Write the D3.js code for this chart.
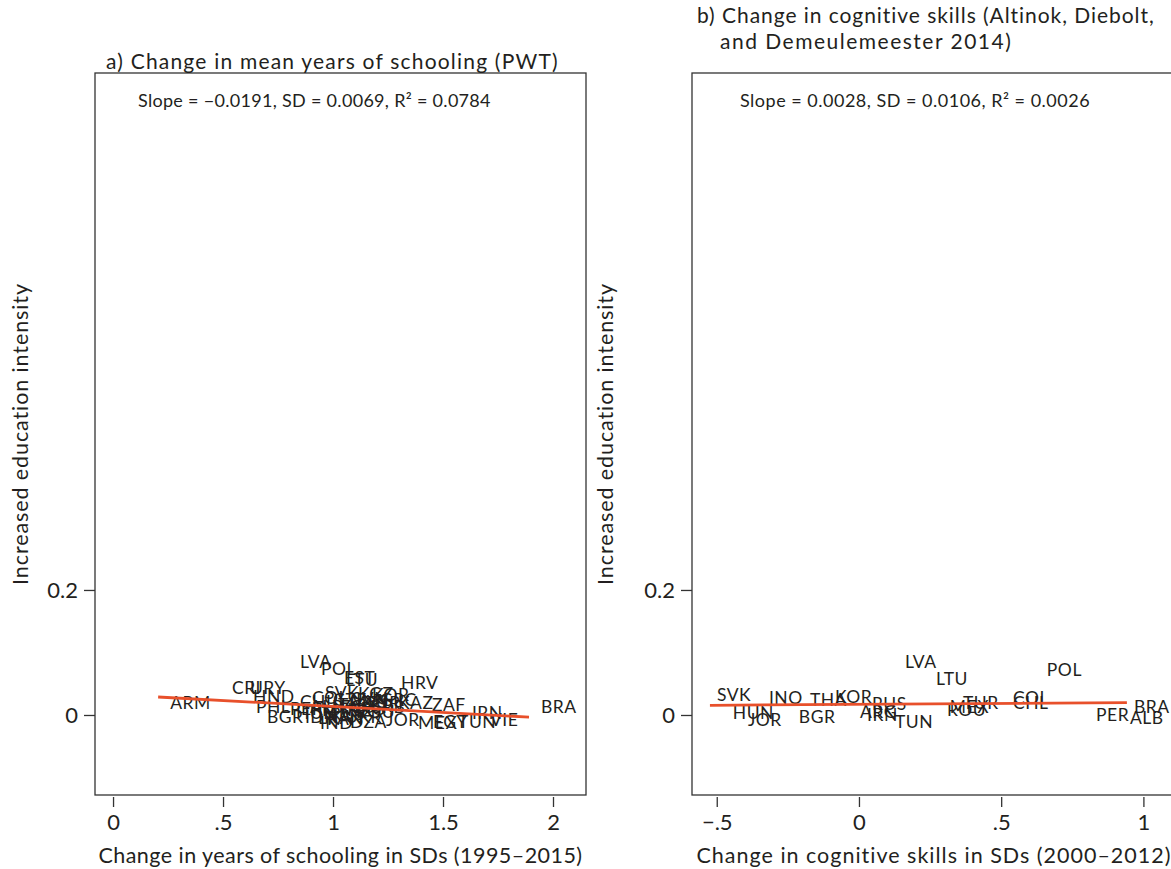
<!DOCTYPE html>
<html><head><meta charset="utf-8">
<script src="https://cdn.jsdelivr.net/npm/d3@7"></script>
<style>body{margin:0;background:#fff}text{font-family:Lato,"Open Sans",sans-serif;fill:#231f20}</style>
</head><body><svg id="c" width="1171" height="869"></svg>
<script>
// Panel a: change in years of schooling (x) vs increased education intensity (y)
const codesA = ["ARM","CRI","URY","HND","PHL","BGR","LVA","POL","EST","LTU","HRV","SVK","KGZ","KOR","KAZ","ZAF","IRN","TUN","VIE","MEX","EGY","JOR","DZA","IND","BRA","CHL","COL","PER","THA","MYS","TUR","SRB","ROU","RUS","UKR","IDN","HUN","CZE","SVN","GRC","LKA","PAN","ECU","ALB","MNG","ARG"];
const xA = [0.205,0.486,0.568,0.582,0.595,0.645,0.795,0.891,0.995,1.005,1.255,0.909,1.059,1.123,1.241,1.395,1.577,1.514,1.659,1.332,1.400,1.186,1.023,0.886,1.891,0.795,0.850,0.750,0.968,1.023,1.091,1.123,1.050,0.932,1.000,0.818,0.777,0.945,1.032,1.159,0.877,0.918,0.977,0.841,0.895,1.014];
const yA = [0.019,0.043,0.043,0.029,0.014,-0.002,0.086,0.074,0.059,0.056,0.051,0.035,0.034,0.032,0.019,0.016,0.003,-0.011,-0.008,-0.013,-0.011,-0.008,-0.011,-0.013,0.014,0.022,0.027,0.010,0.016,0.022,0.019,0.013,0.005,0.002,-0.002,-0.002,0.003,0.024,0.026,0.024,-0.005,-0.006,0.013,0.014,0.008,0.010];
// Panel b: change in cognitive skills (x) vs increased education intensity (y)
const codesB = ["SVK","HUN","JOR","INO","BGR","THA","KOR","ARG","IRN","RUS","TUN","LVA","LTU","ROU","MEX","TUR","COL","CHL","POL","PER","ALB","BRA"];
const xB = [-0.524,-0.468,-0.415,-0.341,-0.236,-0.197,-0.109,-0.021,0.004,0.021,0.102,0.137,0.246,0.285,0.295,0.341,0.517,0.517,0.636,0.809,0.928,0.942];
const yB = [0.032,0.003,-0.008,0.027,-0.002,0.024,0.029,0.005,0.000,0.018,-0.011,0.085,0.058,0.008,0.013,0.019,0.027,0.019,0.072,0.000,-0.005,0.013];
// Fitted lines (intercept, slope)
const fitA = {intercept: 0.0327, slope: -0.0191};
const fitB = {intercept: 0.0170, slope: 0.0028};
const statsA = "Slope = \u22120.0191, SD = 0.0069, R\u00b2 = 0.0784";
const statsB = "Slope = 0.0028, SD = 0.0106, R\u00b2 = 0.0026";
const xTicksA = [0, 0.5, 1, 1.5, 2];
const xTickLabelsA = ["0", ".5", "1", "1.5", "2"];
const xTicksB = [-0.5, 0, 0.5, 1];
const xTickLabelsB = ["\u2212.5", "0", ".5", "1"];
const yTicks = [0, 0.2];
const yTickLabels = ["0", "0.2"];
const titleA = ["a) Change in mean years of schooling (PWT)"];
const titleB = ["b) Change in cognitive skills (Altinok, Diebolt,", "and Demeulemeester 2014)"];
const xTitleA = "Change in years of schooling in SDs (1995\u20132015)";
const xTitleB = "Change in cognitive skills in SDs (2000\u20132012)";
const yTitle = "Increased education intensity";

const svg = d3.select("#c");
const lineColor = "#e8502b";

function panel(cfg) {
  const {left, right, top, bottom, xDom, codes, xs, ys, fit, stats, xTicks, xTickLabels, title, titleX, titleDy,
         xTitle, yTitleX, labelDx, statsX, lsTitle, lsXTitle, lsStats} = cfg;
  const x = d3.scaleLinear().domain(xDom).range([left, right]);
  const y = d3.scaleLinear().domain([-0.128, 1.027]).range([bottom, top]);
  const g = svg.append("g");
  g.append("rect").attr("x", left).attr("y", top).attr("width", right - left).attr("height", bottom - top)
    .attr("fill", "none").attr("stroke", "#333").attr("stroke-width", 1.3);
  const xa = d3.axisBottom(x).tickValues(xTicks).tickSize(10).tickPadding(7)
    .tickFormat((d, i) => xTickLabels[i]);
  const gx = g.append("g").attr("transform", `translate(0,${bottom + 2})`).call(xa);
  gx.select(".domain").remove();
  gx.selectAll(".tick line").attr("stroke", "#333").attr("stroke-width", 1.3);
  gx.selectAll(".tick text").attr("font-size", 22).attr("fill", "#231f20").style("font-family", "Lato");
  const ya = d3.axisLeft(y).tickValues(yTicks).tickSize(11).tickPadding(6)
    .tickFormat((d, i) => yTickLabels[i]);
  const gy = g.append("g").attr("transform", `translate(${left},0)`).call(ya);
  gy.select(".domain").remove();
  gy.selectAll(".tick line").attr("stroke", "#333").attr("stroke-width", 1.3);
  gy.selectAll(".tick text").attr("font-size", 22).attr("fill", "#231f20").style("font-family", "Lato");
  const t = g.append("text").attr("font-size", 21);
  title.forEach((s, i) => t.append("tspan").attr("x", titleX[i]).attr("y", titleDy[i])
    .attr("letter-spacing", lsTitle[i]).text(s));
  g.append("text").attr("x", (left + right) / 2).attr("y", bottom + 68).attr("text-anchor", "middle")
    .attr("font-size", 21.5).attr("letter-spacing", lsXTitle).text(xTitle);
  g.append("text").attr("transform", `translate(${yTitleX},${(top + bottom) / 2}) rotate(-90)`)
    .attr("text-anchor", "middle").attr("font-size", 21.5).attr("letter-spacing", 0.9).text(yTitle);
  g.append("text").attr("x", statsX).attr("y", top + 34).attr("font-size", 18).attr("letter-spacing", lsStats).text(stats);
  const data = codes.map((c, i) => ({c, x: xs[i], y: ys[i]}));
  g.selectAll("text.lab").data(data).enter().append("text").attr("class", "lab")
    .attr("x", d => x(d.x) + labelDx).attr("y", d => y(d.y)).attr("dy", "0.36em")
    .attr("font-size", 17.5).attr("letter-spacing", 0.5).text(d => d.c);
  const ext = d3.extent(xs);
  const lineData = ext.map(v => ({x: v, y: fit.intercept + fit.slope * v}));
  g.append("path").datum(lineData)
    .attr("d", d3.line().x(d => x(d.x)).y(d => y(d.y)))
    .attr("stroke", lineColor).attr("stroke-width", 2.8).attr("fill", "none");
}

panel({left: 95, right: 586, top: 73, bottom: 795, xDom: [-0.082, 2.15],
  codes: codesA, xs: xA, ys: yA, fit: fitA, stats: statsA, xTicks: xTicksA, xTickLabels: xTickLabelsA,
  title: titleA, titleX: [106], titleDy: [69], xTitle: xTitleA, yTitleX: 28, labelDx: 12, statsX: 138,
  lsTitle: [1.2], lsXTitle: 0.45, lsStats: 0.3});
panel({left: 692, right: 1176, top: 73, bottom: 795, xDom: [-0.587, 1.1146],
  codes: codesB, xs: xB, ys: yB, fit: fitB, stats: statsB, xTicks: xTicksB, xTickLabels: xTickLabelsB,
  title: titleB, titleX: [697, 720], titleDy: [23, 49], xTitle: xTitleB, yTitleX: 613, labelDx: 7, statsX: 740,
  lsTitle: [0.95, 1.5], lsXTitle: 1.0, lsStats: 0.5});
</script></body></html>
